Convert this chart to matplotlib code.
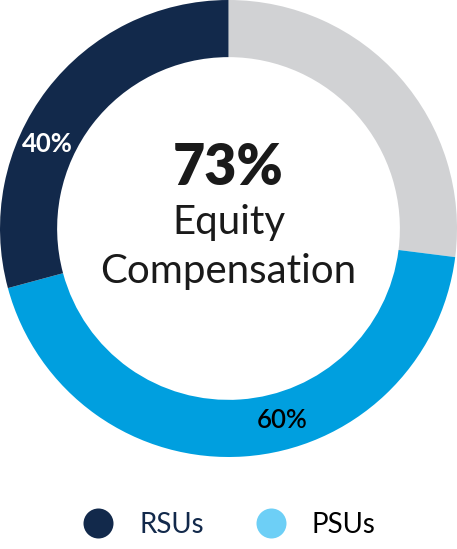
import matplotlib
matplotlib.use("Agg")
import matplotlib.pyplot as plt
from matplotlib.lines import Line2D
import numpy as np

# Data
equity_total = 73          # % of compensation that is equity
categories = ["RSUs", "PSUs"]
equity_split = [40, 60]    # % of equity

# Colors
c_navy = "#12294b"
c_blue = "#009fdf"
c_grey = "#d1d2d4"
c_legend_psu = "#6dcff6"

plt.rcParams['font.family'] = ['Lato', 'DejaVu Sans']

fig = plt.figure(figsize=(4.57, 5.49), dpi=100)
ax = fig.add_axes([0, (549 - 457) / 549, 1, 457 / 549])

rsu_val = equity_total * equity_split[0] / 100
psu_val = equity_total * equity_split[1] / 100
values = [100 - equity_total, psu_val, rsu_val]
colors = [c_grey, c_blue, c_navy]

ax.pie(values, colors=colors, startangle=90, counterclock=False,
       radius=1.0, wedgeprops=dict(width=0.25, linewidth=0))
ax.set_xlim(-1.0, 1.0)
ax.set_ylim(-1.0, 1.0)
ax.set_aspect('equal')
ax.axis('off')

r_lab = 0.875
a40 = np.deg2rad(155)
ax.text(r_lab * np.cos(a40), r_lab * np.sin(a40), f"{equity_split[0]}%",
        color="white", fontsize=18.5, fontweight='bold', ha='center', va='center')
a60 = np.deg2rad(-74.3)
ax.text(r_lab * np.cos(a60), r_lab * np.sin(a60), f"{equity_split[1]}%",
        color="black", fontsize=18.5, fontweight='semibold', ha='center', va='center')

ax.text(0, 0.19, f"{equity_total}%", fontsize=40, fontweight='heavy',
        ha='center', va='baseline', color="#1a1a1a")
ax.text(0, -0.026, "Equity", fontsize=29, fontweight='normal',
        ha='center', va='baseline', color="#1a1a1a")
ax.text(0, -0.237, "Compensation", fontsize=29, fontweight='normal',
        ha='center', va='baseline', color="#1a1a1a")

handles = [Line2D([], [], marker='o', linestyle='none', markersize=21.6,
                  markerfacecolor=c, markeredgewidth=0)
           for c in [c_navy, c_legend_psu]]
leg = fig.legend(handles, categories, loc='center', bbox_to_anchor=(0.5, 1 - 525 / 549),
                 ncol=2, frameon=False, fontsize=20, handlelength=1.2,
                 handletextpad=0.87, columnspacing=1.8)
leg.get_texts()[0].set_color(c_navy)
leg.get_texts()[1].set_color("black")

fig.savefig("out.png", dpi=100)
